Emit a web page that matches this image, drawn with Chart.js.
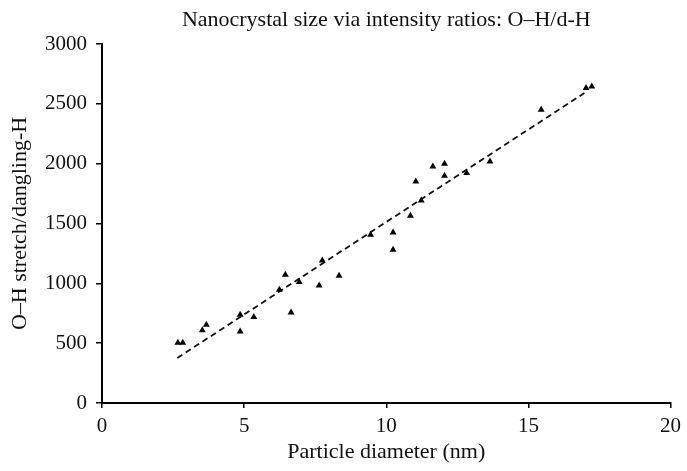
<!DOCTYPE html>
<html>
<head>
<meta charset="utf-8">
<script src="https://cdn.jsdelivr.net/npm/chart.js@4"></script>
<style>
  html, body { margin: 0; padding: 0; background: #fff; }
  #wrap { width: 687px; height: 471px; }
</style>
</head>
<body>
<div id="wrap"><canvas id="myChart"></canvas></div>
<script>
/* ============== Data ===========*/

const diameter = [2.67, 2.84, 3.53, 3.67, 4.86, 4.86, 5.34, 6.24, 6.45, 6.65,
  6.94, 7.64, 7.75, 8.34, 9.45, 10.24, 10.24, 10.85, 11.23, 11.04,
  11.64, 12.05, 12.05, 12.83, 13.65, 15.45, 17.03, 17.23];
const ratio = [504, 504, 607, 654, 598, 738, 718, 947, 1072, 757,
  1011, 982, 1191, 1063, 1406, 1425, 1281, 1565, 1693, 1851,
  1977, 2000, 1900, 1921, 2018, 2450, 2632, 2645];

// fitted dashed line (end points)
const fitX = [2.65, 16.97];
const fitY = [376, 2590];

const xTicks = [0, 5, 10, 15, 20];
const yTicks = [0, 500, 1000, 1500, 2000, 2500, 3000];

/* ============== Chart ===========*/

const serif = "'Liberation Serif', 'DejaVu Serif', serif";
Chart.defaults.font.family = serif;
Chart.defaults.color = '#111';

const graf = document.getElementById('myChart');

const data = {
  datasets: [{
    type: 'scatter',
    data: diameter.map((x, i) => ({ x: x, y: ratio[i] })),
    pointStyle: 'triangle',
    pointRadius: 4,
    pointHoverRadius: 4,
    backgroundColor: '#000',
    borderColor: '#000',
    borderWidth: 0
  }, {
    type: 'line',
    data: fitX.map((x, i) => ({ x: x, y: fitY[i] })),
    borderColor: '#111',
    borderWidth: 1.8,
    borderDash: [6, 4],
    pointRadius: 0,
    fill: false
  }]
};

const config = {
  type: 'scatter',
  data,
  options: {
    responsive: true,
    maintainAspectRatio: false,
    animation: false,
    layout: { padding: { left: 0, right: 14, top: 0, bottom: 0 } },
    plugins: {
      legend: { display: false },
      tooltip: { enabled: false }
    },
    scales: {
      x: {
        type: 'linear',
        min: 0,
        max: 20,
        afterBuildTicks: (s) => { s.ticks = xTicks.map(v => ({ value: v })); },
        afterFit: (s) => { s.height = 68; },
        border: { display: true, color: '#000', width: 2 },
        grid: { drawOnChartArea: false, drawTicks: true, tickLength: 5, color: '#000', lineWidth: 1.5 },
        ticks: { color: '#111', font: { size: 21 }, padding: 6, maxRotation: 0 },
        title: {
          display: true,
          text: 'Particle diameter (nm)',
          color: '#111',
          font: { size: 22 },
          padding: { top: 0, bottom: 6 }
        }
      },
      // top axis only carries the chart title, centred over the plot
      top: {
        type: 'linear',
        axis: 'x',
        position: 'top',
        min: 0,
        max: 20,
        afterFit: (s) => { s.height = 44; },
        border: { display: false },
        grid: { display: false },
        ticks: { display: false },
        title: {
          display: true,
          text: 'Nanocrystal size via intensity ratios: O\u2013H/d-H',
          color: '#111',
          font: { size: 22 },
          padding: { top: 7, bottom: 0 }
        }
      },
      y: {
        type: 'linear',
        min: 0,
        max: 3000,
        afterBuildTicks: (s) => { s.ticks = yTicks.map(v => ({ value: v })); },
        afterFit: (s) => { s.width = 102; },
        border: { display: true, color: '#000', width: 2 },
        grid: { drawOnChartArea: false, drawTicks: true, tickLength: 6, color: '#000', lineWidth: 1.5 },
        ticks: { color: '#111', font: { size: 21 }, padding: 9, callback: (v) => String(v) },
        title: {
          display: true,
          text: 'O\u2013H stretch/dangling-H',
          color: '#111',
          font: { size: 22 },
          padding: { top: 7, bottom: 0 }
        }
      }
    }
  }
};

const myChart = new Chart(graf, config);
</script>
</body>
</html>
